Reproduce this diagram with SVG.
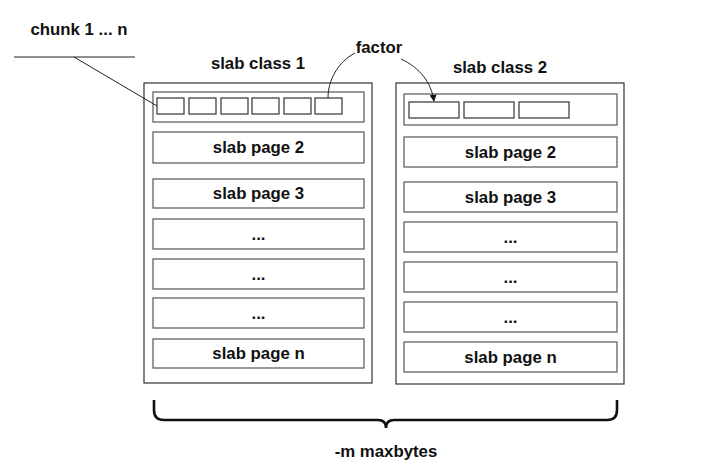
<svg xmlns="http://www.w3.org/2000/svg" width="708" height="470" viewBox="0 0 708 470">
<defs>
<style>
text{font-family:"Liberation Sans",Arial,sans-serif;font-weight:bold;font-size:16.8px;fill:#111;text-anchor:middle}
.outer{fill:#fff;stroke:#333;stroke-width:1.2}
.row{fill:#fff;stroke:#555;stroke-width:1.2}
.chunk{fill:#fff;stroke:#333;stroke-width:1.2}
.ln{fill:none;stroke:#222;stroke-width:1}
</style>
<marker id="arr" viewBox="0 0 10 10" refX="9" refY="5" markerWidth="7" markerHeight="7" orient="auto" markerUnits="userSpaceOnUse">
<path d="M0,0 L10,5 L0,10 z" fill="#111"/>
</marker>
</defs>
<rect width="708" height="470" fill="#fff"/>

<g id="chunk-label">
<text x="79" y="35">chunk 1 ... n</text>
<line class="ln" x1="14" y1="57" x2="135" y2="57"/>
</g>

<g id="slab-class-1">
<text x="258" y="69">slab class 1</text>
<rect class="outer" x="144" y="83" width="228" height="300"/>
<rect class="row" x="153" y="92" width="211" height="30"/>
<rect class="chunk" x="157" y="98" width="27" height="16"/>
<rect class="chunk" x="189" y="98" width="27" height="16"/>
<rect class="chunk" x="221" y="98" width="27" height="16"/>
<rect class="chunk" x="252" y="98" width="27" height="16"/>
<rect class="chunk" x="284" y="98" width="27" height="16"/>
<rect class="chunk" x="315" y="98" width="27" height="16"/>
<rect class="row" x="153" y="132" width="211" height="31"/>
<text x="258.5" y="153">slab page 2</text>
<rect class="row" x="153" y="179" width="211" height="29"/>
<text x="258.5" y="199">slab page 3</text>
<rect class="row" x="153" y="219" width="211" height="30"/>
<text x="258.5" y="240">...</text>
<rect class="row" x="153" y="259" width="211" height="30"/>
<text x="258.5" y="280">...</text>
<rect class="row" x="153" y="298" width="211" height="30"/>
<text x="258.5" y="319">...</text>
<rect class="row" x="153" y="339" width="211" height="29"/>
<text x="258.5" y="359">slab page n</text>
</g>

<g id="slab-class-2">
<text x="500" y="73">slab class 2</text>
<rect class="outer" x="396" y="83" width="228" height="301"/>
<rect class="row" x="404" y="94" width="213" height="31"/>
<rect class="chunk" x="409" y="102" width="50" height="16"/>
<rect class="chunk" x="464" y="102" width="50" height="16"/>
<rect class="chunk" x="519" y="102" width="50" height="16"/>
<rect class="row" x="404" y="137" width="213" height="30"/>
<text x="510.5" y="158">slab page 2</text>
<rect class="row" x="404" y="182" width="213" height="30"/>
<text x="510.5" y="203">slab page 3</text>
<rect class="row" x="404" y="222" width="213" height="30"/>
<text x="510.5" y="243">...</text>
<rect class="row" x="404" y="262" width="213" height="30"/>
<text x="510.5" y="283">...</text>
<rect class="row" x="404" y="302" width="213" height="30"/>
<text x="510.5" y="323">...</text>
<rect class="row" x="404" y="342" width="213" height="30"/>
<text x="510.5" y="363">slab page n</text>
</g>

<g id="factor-label">
<text x="379" y="53">factor</text>
</g>

<g id="maxbytes">
<path d="M154,400 L154,410 Q154,420 164,420 L378,420 Q386,420 386,428 Q386,420 394,420 L607,420 Q617,420 617,410 L617,400" fill="none" stroke="#111" stroke-width="2.6"/>
<text x="386" y="457">-m maxbytes</text>
</g>

<g id="connectors">
<line class="ln" x1="74" y1="57" x2="157" y2="106"/>
<path class="ln" d="M355,53 C338,62 328,80 328,98"/>
<path class="ln" d="M401,59 C420,68 431,82 434,101" marker-end="url(#arr)"/>
</g>
</svg>
